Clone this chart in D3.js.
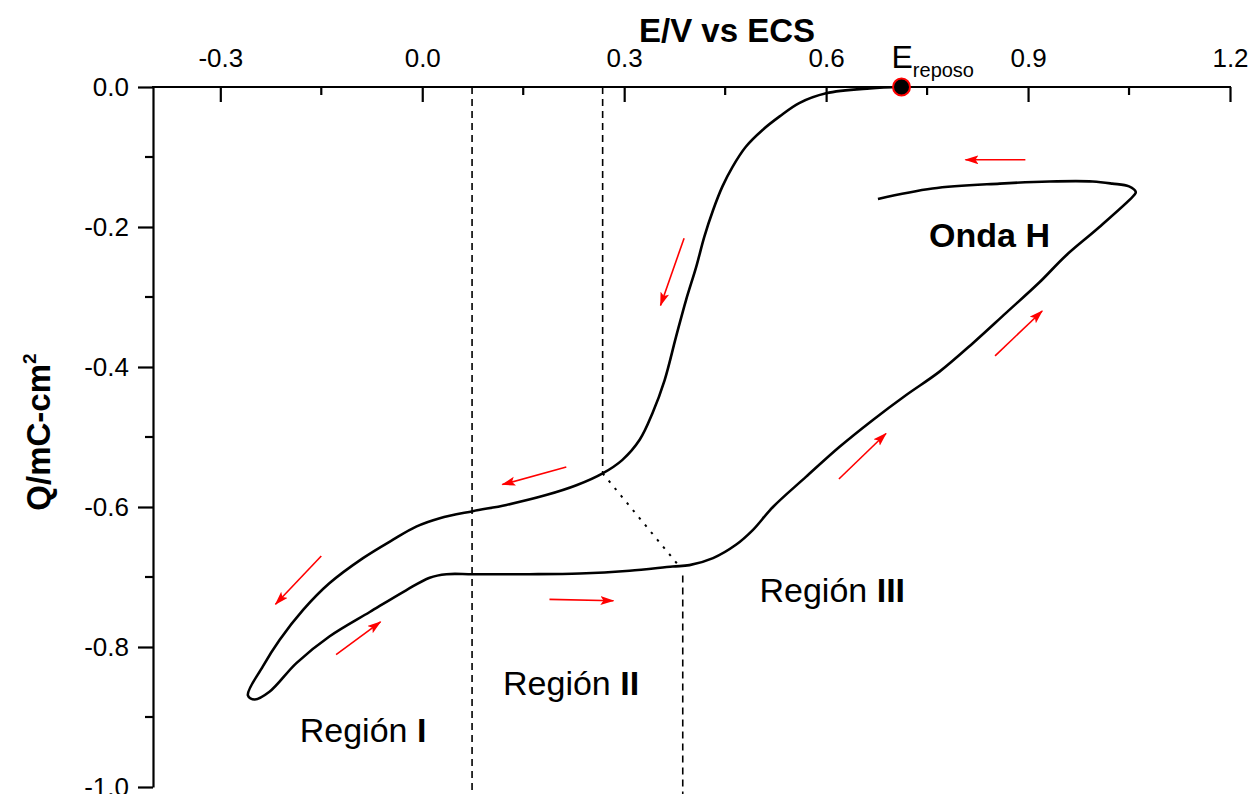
<!DOCTYPE html>
<html>
<head>
<meta charset="utf-8">
<script src="https://cdn.jsdelivr.net/npm/d3@7"></script>
<style>
  html, body { margin: 0; padding: 0; background: #fff; }
  svg { display: block; }
  text { font-family: "Liberation Sans", Arial, sans-serif; }
</style>
</head>
<body>
<svg id="chart" width="1253" height="794"></svg>
<script>
// ---------------- data ----------------
const xTicks = [-0.3, 0.0, 0.3, 0.6, 0.9, 1.2];
const xMinorTicks = [-0.15, 0.15, 0.45, 0.75, 1.05];
const yTicks = [0.0, -0.2, -0.4, -0.6, -0.8, -1.0];
const yMinorTicks = [-0.1, -0.3, -0.5, -0.7, -0.9];

// charge trace (E / V vs ECS, Q / mC cm^-2), in scan order starting at E_reposo
const curveE = [0.712, 0.665, 0.600, 0.560, 0.531, 0.506, 0.481, 0.461, 0.446, 0.432,
  0.419, 0.407, 0.392, 0.377, 0.360, 0.342, 0.323, 0.297, 0.268, 0.229, 0.184,
  0.125, 0.075, 0.026, -0.009, -0.044, -0.088, -0.138, -0.177, -0.212, -0.237,
  -0.259, -0.249, -0.227, -0.187, -0.138, -0.078, -0.024, 0.011, 0.036, 0.075,
  0.159, 0.234, 0.308, 0.372, 0.397, 0.432, 0.466, 0.491, 0.521, 0.570,
  0.620, 0.669, 0.719, 0.768, 0.818, 0.867, 0.917, 0.956, 1.006, 1.058,
  1.060, 1.050, 1.025, 0.996, 0.932, 0.858, 0.758, 0.677];
const curveQ = [0.000, -0.002, -0.009, -0.023, -0.042, -0.061, -0.085, -0.114, -0.142, -0.176,
  -0.214, -0.257, -0.304, -0.357, -0.419, -0.466, -0.504, -0.533, -0.552, -0.569, -0.583,
  -0.597, -0.606, -0.616, -0.628, -0.647, -0.673, -0.709, -0.747, -0.790, -0.828,
  -0.869, -0.875, -0.864, -0.823, -0.785, -0.750, -0.719, -0.701, -0.696, -0.696,
  -0.696, -0.695, -0.691, -0.685, -0.683, -0.673, -0.654, -0.633, -0.600, -0.557,
  -0.514, -0.476, -0.440, -0.407, -0.366, -0.323, -0.279, -0.241, -0.200, -0.154,
  -0.150, -0.142, -0.138, -0.135, -0.135, -0.138, -0.145, -0.160];

// rest potential
const restE = 0.712, restQ = 0.0;

// region boundaries: [E, Qtop, Qbottom]
const dashedBounds = [[0.074, 0.0, -1.02], [0.268, 0.0, -0.552], [0.387, -0.698, -1.02]];
// dotted connector [E1, Q1, E2, Q2]
const dottedLink = [0.268, -0.552, 0.383, -0.686];

// scan direction arrows [Etail, Qtail, Ehead, Qhead]
const arrows = [
  [0.896, -0.104, 0.807, -0.104],
  [0.389, -0.216, 0.354, -0.312],
  [0.214, -0.543, 0.119, -0.568],
  [-0.150, -0.670, -0.218, -0.739],
  [-0.128, -0.811, -0.062, -0.764],
  [0.189, -0.732, 0.284, -0.734],
  [0.619, -0.560, 0.689, -0.495],
  [0.851, -0.384, 0.921, -0.320]
];

// region labels [E, Q, normal part, bold part]
const regionLabels = [
  [-0.182, -0.936, "Región ", "I"],
  [0.120, -0.869, "Región ", "II"],
  [0.501, -0.735, "Región ", "III"]
];
const ondaLabel = [0.753, -0.229, "Onda H"];

// ---------------- drawing ----------------
const svg = d3.select("#chart");
const x = d3.scaleLinear().domain([-0.4, 1.2]).range([153, 1230]);
const y = d3.scaleLinear().domain([-1.0, 0.0]).range([787, 87]);

const fmt = d => d.toFixed(1);

// top axis (ticks pointing down/inward)
const xAxis = d3.axisTop(x).tickValues(xTicks).tickFormat(fmt).tickSizeInner(-15).tickSizeOuter(0).tickPadding(20);
const gx = svg.append("g").attr("transform", `translate(0,${y(0)})`).call(xAxis);
gx.select(".domain").attr("stroke", "#000").attr("stroke-width", 2.2).attr("d", `M${x(-0.4)-1},0H${x(1.2)+1}`);
gx.selectAll(".tick line").attr("stroke-width", 2.2);
gx.selectAll(".tick text").attr("font-size", 26).attr("fill", "#000")
  .attr("font-family", "Liberation Sans, Arial, sans-serif");
svg.append("g").selectAll("line").data(xMinorTicks).join("line")
  .attr("x1", d => x(d)).attr("x2", d => x(d))
  .attr("y1", y(0)).attr("y2", y(0) + 8)
  .attr("stroke", "#000").attr("stroke-width", 2.2);

// left axis (ticks pointing outward)
const yAxis = d3.axisLeft(y).tickValues(yTicks).tickFormat(fmt).tickSizeInner(15).tickSizeOuter(0).tickPadding(9);
const gy = svg.append("g").attr("transform", `translate(${x(-0.4)},0)`).call(yAxis);
gy.select(".domain").attr("stroke", "#000").attr("stroke-width", 2.2);
gy.selectAll(".tick line").attr("stroke-width", 2.2);
gy.selectAll(".tick text").attr("font-size", 26).attr("fill", "#000")
  .attr("font-family", "Liberation Sans, Arial, sans-serif");
svg.append("g").selectAll("line").data(yMinorTicks).join("line")
  .attr("x1", x(-0.4) - 8).attr("x2", x(-0.4))
  .attr("y1", d => y(d)).attr("y2", d => y(d))
  .attr("stroke", "#000").attr("stroke-width", 2.2);

// axis titles
svg.append("text").attr("x", 727).attr("y", 42).attr("text-anchor", "middle")
  .attr("font-size", 33).attr("font-weight", "bold").text("E/V vs ECS");
const yt = svg.append("text").attr("transform", "translate(50,432) rotate(-90)")
  .attr("text-anchor", "middle").attr("font-size", 33).attr("font-weight", "bold");
yt.append("tspan").text("Q/mC-cm");
yt.append("tspan").attr("font-size", 19).attr("dy", -14).text("2");

// dashed region boundaries
svg.append("g").selectAll("line").data(dashedBounds).join("line")
  .attr("x1", d => x(d[0])).attr("x2", d => x(d[0]))
  .attr("y1", d => y(d[1])).attr("y2", d => y(d[2]))
  .attr("stroke", "#000").attr("stroke-width", 1.6).attr("stroke-dasharray", "7,5");
svg.append("line")
  .attr("x1", x(dottedLink[0])).attr("y1", y(dottedLink[1]))
  .attr("x2", x(dottedLink[2])).attr("y2", y(dottedLink[3]))
  .attr("stroke", "#000").attr("stroke-width", 2).attr("stroke-dasharray", "2.5,7");

// main curve
const pts = curveE.map((e, i) => [e, curveQ[i]]);
const line = d3.line().x(d => x(d[0])).y(d => y(d[1])).curve(d3.curveCatmullRom.alpha(0.5));
svg.append("path").datum(pts).attr("d", line)
  .attr("fill", "none").attr("stroke", "#000").attr("stroke-width", 2.6)
  .attr("stroke-linejoin", "round");

// arrows
const defs = svg.append("defs");
defs.append("marker").attr("id", "ah").attr("markerUnits", "userSpaceOnUse")
  .attr("markerWidth", 14).attr("markerHeight", 10).attr("refX", 13).attr("refY", 4.5)
  .attr("orient", "auto")
  .append("path").attr("d", "M0,0 L14,4.5 L0,9 L3,4.5 z").attr("fill", "#ff0000");
svg.append("g").selectAll("line").data(arrows).join("line")
  .attr("x1", d => x(d[0])).attr("y1", d => y(d[1]))
  .attr("x2", d => x(d[2])).attr("y2", d => y(d[3]))
  .attr("stroke", "#ff0000").attr("stroke-width", 1.6)
  .attr("marker-end", "url(#ah)");

// region labels
regionLabels.forEach(r => {
  const t = svg.append("text").attr("x", x(r[0])).attr("y", y(r[1])).attr("font-size", 34);
  t.append("tspan").text(r[2]);
  t.append("tspan").attr("font-weight", "bold").text(r[3]);
});
svg.append("text").attr("x", x(ondaLabel[0])).attr("y", y(ondaLabel[1]))
  .attr("font-size", 34).attr("font-weight", "bold").text(ondaLabel[2]);

// rest potential marker and label
svg.append("circle").attr("cx", x(restE)).attr("cy", y(restQ)).attr("r", 8.5)
  .attr("fill", "#000").attr("stroke", "#ff0000").attr("stroke-width", 2);
const er = svg.append("text").attr("x", x(restE) - 10).attr("y", 68).attr("font-size", 32);
er.append("tspan").text("E");
er.append("tspan").attr("font-size", 20).attr("dy", 9).text("reposo");
</script>
</body>
</html>
